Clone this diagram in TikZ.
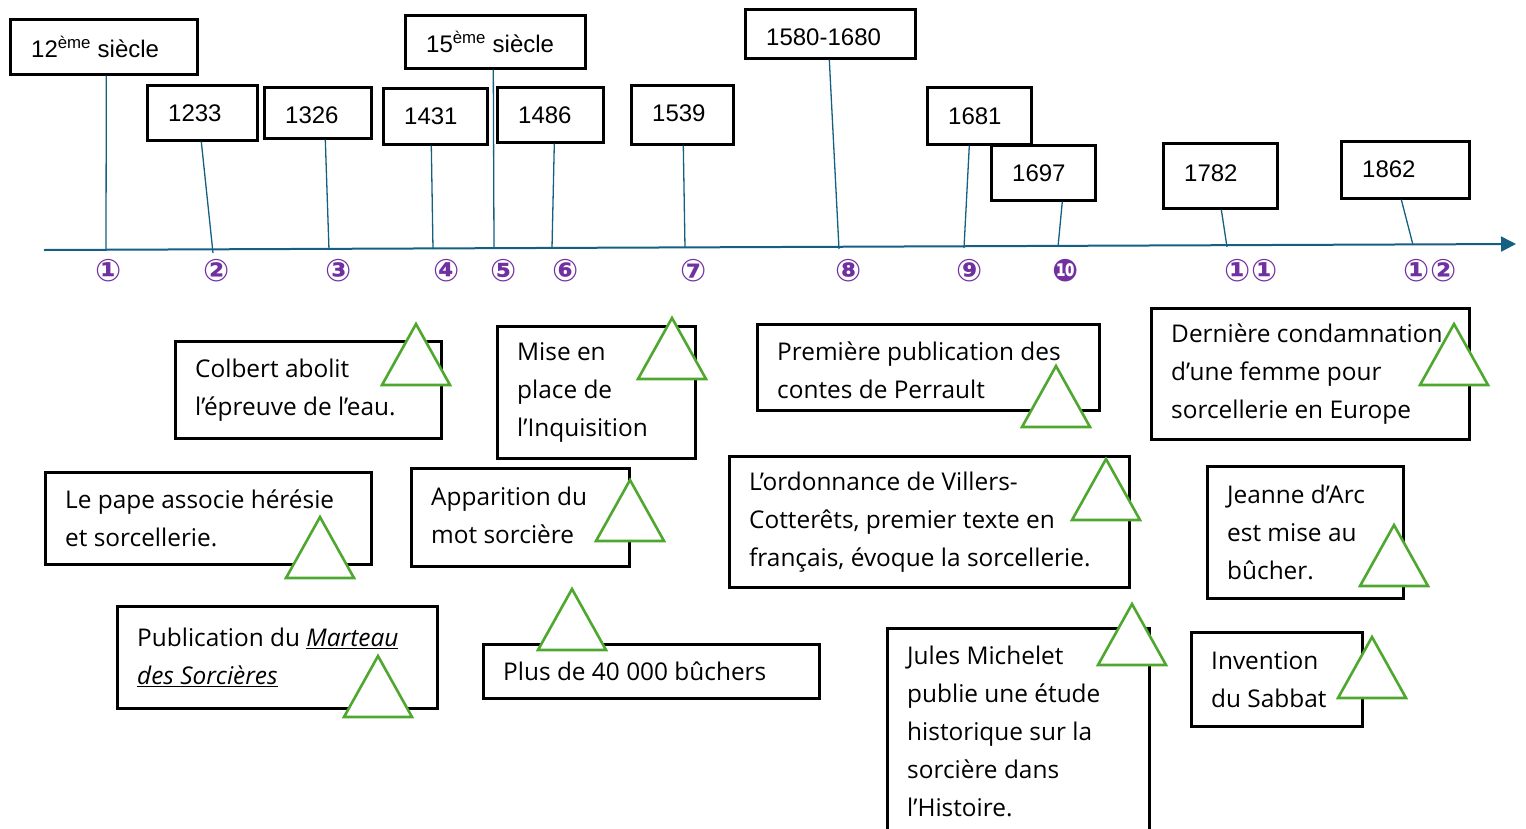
\documentclass[tikz,border=0pt]{standalone}
\usepackage{fontspec}
\setmainfont{Open Sans}
\newfontfamily\datefont{Liberation Sans}
\newfontfamily\circfont{DejaVu Sans Bold}
\usetikzlibrary{arrows.meta,calc}
\definecolor{axisblue}{HTML}{156082}
\definecolor{trigreen}{HTML}{4EA72E}
\definecolor{numpurple}{HTML}{7030A0}
\tikzset{
 frame/.style={draw=black,line width=2.6pt,anchor=north west,inner sep=0pt},
 evtext/.style={anchor=west,inner sep=0pt,align=left,font=\fontsize{24.4}{38}\selectfont},
 datetext/.style={anchor=west,inner sep=0pt,font=\datefont\fontsize{24}{28}\selectfont},
 conn/.style={draw=axisblue,line width=1.3pt},
 axisline/.style={draw=axisblue,line width=2pt,-{Triangle[length=15pt,width=15pt]}},
 num/.style={text=numpurple,font=\circfont\fontsize{31}{32}\selectfont,inner sep=0pt},
 tri/.pic={\draw[draw=trigreen,fill=white,line width=2.6pt,line join=miter] (0,0) -- (-34,61) -- (34,61) -- cycle;},
}
\begin{document}
\begin{tikzpicture}[x=1pt,y=-1pt]
\useasboundingbox (0,0) rectangle (1526,828);

% axis
\coordinate (axs) at (44,250);
\coordinate (axe) at (1516,244);
\draw[axisline] (axs) -- (axe);

% date boxes
\node[frame,minimum width=187pt,minimum height=55pt] (d12) at (9,18) {};
\node[datetext] (d12t) at ($(d12.west)+(22,0)$) {12\textsuperscript{ème} siècle};
\node[frame,minimum width=110pt,minimum height=55pt] (d1233) at (146,84) {};
\node[datetext] (d1233t) at ($(d1233.west)+(22,0)$) {1233};
\node[frame,minimum width=107pt,minimum height=51pt] (d1326) at (263,86) {};
\node[datetext] (d1326t) at ($(d1326.west)+(22,2)$) {1326};
\node[frame,minimum width=180pt,minimum height=53pt] (d15) at (404,14) {};
\node[datetext] (d15t) at ($(d15.west)+(22,0)$) {15\textsuperscript{ème} siècle};
\node[frame,minimum width=104pt,minimum height=56pt] (d1431) at (382,87) {};
\node[datetext] (d1431t) at ($(d1431.west)+(22,0)$) {1431};
\node[frame,minimum width=106pt,minimum height=55pt] (d1486) at (496,86) {};
\node[datetext] (d1486t) at ($(d1486.west)+(22,0)$) {1486};
\node[frame,minimum width=102pt,minimum height=59pt] (d1539) at (630,84) {};
\node[datetext] (d1539t) at ($(d1539.west)+(22,-2)$) {1539};
\node[frame,minimum width=170pt,minimum height=49pt] (d1580) at (744,8) {};
\node[datetext] (d1580t) at ($(d1580.west)+(22,3)$) {1580-1680};
\node[frame,minimum width=104pt,minimum height=57pt] (d1681) at (926,86) {};
\node[datetext] (d1681t) at ($(d1681.west)+(22,0)$) {1681};
\node[frame,minimum width=104pt,minimum height=55pt] (d1697) at (990,144) {};
\node[datetext] (d1697t) at ($(d1697.west)+(22,0)$) {1697};
\node[frame,minimum width=114pt,minimum height=65pt] (d1782) at (1162,142) {};
\node[datetext] (d1782t) at ($(d1782.west)+(22,-3)$) {1782};
\node[frame,minimum width=128pt,minimum height=57pt] (d1862) at (1340,140) {};
\node[datetext] (d1862t) at ($(d1862.west)+(22,-1)$) {1862};

% axis points
\coordinate (a1) at (106,250);
\coordinate (a2) at (213,253);
\coordinate (a3) at (329,250);
\coordinate (a15) at (494,247);
\coordinate (a4) at (433,249);
\coordinate (a6) at (552,248);
\coordinate (a7) at (685,248);
\coordinate (a8) at (839,249);
\coordinate (a9) at (964,248);
\coordinate (a10) at (1058,247);
\coordinate (a11) at (1227,247);
\coordinate (a12) at (1413,245);

% connectors
\draw[conn] ([xshift=2.5pt]d12.south) -- (a1);
\draw[conn] ([xshift=-1pt]d1233.south) -- (a2);
\draw[conn] ([xshift=7.5pt]d1326.south) -- (a3);
\draw[conn] ([xshift=-2pt]d15.south) -- (a15);
\draw[conn] ([xshift=-4pt]d1431.south) -- (a4);
\draw[conn] ([xshift=4pt]d1486.south) -- (a6);
\draw[conn] ([xshift=1pt]d1539.south) -- (a7);
\draw[conn] ([xshift=-1pt]d1580.south) -- (a8);
\draw[conn] ([xshift=-10pt]d1681.south) -- (a9);
\draw[conn] ([xshift=19pt]d1697.south) -- (a10);
\draw[conn] ([xshift=1pt]d1782.south) -- (a11);
\draw[conn] ([xshift=-4pt]d1862.south) -- (a12);

% numbers
\node[num] (n1) at (109,271) {①};
\node[num] (n2) at (217,271) {②};
\node[num] (n3) at (339,271) {③};
\node[num] (n4) at (447,271) {④};
\node[num] (n5) at (504,271) {⑤};
\node[num] (n6) at (566,271) {⑥};
\node[num] (n7) at (694,271) {⑦};
\node[num] (n8) at (849,271) {⑧};
\node[num] (n9) at (970,271) {⑨};
\node[num] (n10) at (1066,271) {❿};
\node[num] (n11) at (1251,271) {①①};
\node[num] (n12) at (1430,271) {①②};

% event boxes
\node[frame,minimum width=266pt,minimum height=97pt] (colbert) at (174,340) {};
\node[evtext] (colbertt) at ($(colbert.west)+(21,0)$) {Colbert abolit\\l’épreuve de l’eau.};
\node[frame,minimum width=326pt,minimum height=92pt] (pape) at (44,471) {};
\node[evtext] (papet) at ($(pape.west)+(21,0)$) {Le pape associe hérésie\\et sorcellerie.};
\node[frame,minimum width=320pt,minimum height=102pt] (marteau) at (116,605) {};
\node[evtext] (marteaut) at ($(marteau.west)+(21,0)$) {Publication du \underline{\itshape Marteau}\\\underline{\itshape des Sorcières}};
\node[frame,minimum width=198pt,minimum height=132pt] (mise) at (496,325) {};
\node[evtext] (miset) at ($(mise.west)+(21,0)$) {Mise en\\place de\\l’Inquisition};
\node[frame,minimum width=218pt,minimum height=98pt] (appar) at (410,467) {};
\node[evtext] (appart) at ($(appar.west)+(21,-2)$) {Apparition du\\mot sorcière};
\node[frame,minimum width=336pt,minimum height=54pt] (plus) at (482,643) {};
\node[evtext] (plust) at ($(plus.west)+(21,0)$) {Plus de 40 000 bûchers};
\node[frame,minimum width=342pt,minimum height=86pt] (perrault) at (756,323) {};
\node[evtext] (perraultt) at ($(perrault.west)+(21,3)$) {Première publication des\\contes de Perrault};
\node[frame,minimum width=400pt,minimum height=131pt] (ordon) at (728,455) {};
\node[evtext] (ordont) at ($(ordon.west)+(21,0)$) {L’ordonnance de Villers-\\Cotterêts, premier texte en\\français, évoque la sorcellerie.};
\node[frame,minimum width=262pt,minimum height=210pt] (michelet) at (886,627) {};
\node[evtext] (michelett) at ($(michelet.west)+(21,-2)$) {Jules Michelet\\publie une étude\\historique sur la\\sorcière dans\\l’Histoire.};
\node[frame,minimum width=318pt,minimum height=131pt] (derniere) at (1150,307) {};
\node[evtext] (dernieret) at ($(derniere.west)+(21,0)$) {Dernière condamnation\\d’une femme pour\\sorcellerie en Europe};
\node[frame,minimum width=196pt,minimum height=132pt] (jeanne) at (1206,465) {};
\node[evtext] (jeannet) at ($(jeanne.west)+(21,0)$) {Jeanne d’Arc\\est mise au\\bûcher.};
\node[frame,minimum width=171pt,minimum height=94pt] (invention) at (1190,631) {};
\node[evtext] (inventiont) at ($(invention.west)+(21,0)$) {Invention\\du Sabbat};

% triangles
\pic at (416,324) {tri};
\pic at (320,517) {tri};
\pic at (378,656) {tri};
\pic at (672,318) {tri};
\pic at (630,480) {tri};
\pic at (572,589) {tri};
\pic at (1056,366) {tri};
\pic at (1106,459) {tri};
\pic at (1132,604) {tri};
\pic at (1454,324) {tri};
\pic at (1394,525) {tri};
\pic at (1372,637) {tri};
\end{tikzpicture}
\end{document}
